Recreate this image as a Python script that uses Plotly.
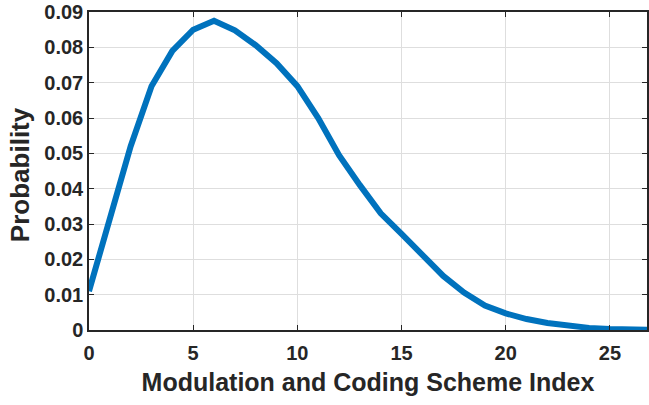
import plotly.graph_objects as go

mcs = list(range(0, 28))
prob = [0.011, 0.032, 0.052, 0.069, 0.079, 0.085, 0.0875, 0.0848, 0.0806, 0.0755,
        0.069, 0.060, 0.0495, 0.041, 0.033, 0.0272, 0.0215, 0.0153, 0.0106, 0.0069,
        0.0047, 0.0031, 0.0020, 0.0012, 0.0006, 0.0003, 0.0001, 0.00005]

x_ticks = [0, 5, 10, 15, 20, 25]
y_ticks = [0, 0.01, 0.02, 0.03, 0.04, 0.05, 0.06, 0.07, 0.08, 0.09]
y_tick_text = ["0", "0.01", "0.02", "0.03", "0.04", "0.05", "0.06", "0.07", "0.08", "0.09"]

FONT = "Liberation Sans, Arial, sans-serif"
tick_font = dict(family=FONT, size=20, color="#262626", weight="bold")
fig = go.Figure()
fig.add_trace(go.Scatter(x=mcs, y=prob, mode="lines",
                         line=dict(color="#0072BD", width=6), showlegend=False))

fig.update_layout(
    width=649, height=405,
    margin=dict(l=89, r=0, t=12, b=75),
    paper_bgcolor="white", plot_bgcolor="white",
    font=dict(family=FONT, color="#262626"),
    xaxis=dict(range=[0, 26.78], tickvals=x_ticks, ticks="inside", ticklen=5,
               tickcolor="#262626", showline=True, linecolor="#262626", linewidth=1.5,
               mirror="ticks", showgrid=True, gridcolor="#dedede", gridwidth=1,
               zeroline=False, tickfont=tick_font, ticklabelstandoff=4,
               title=dict(text="<b>Modulation and Coding Scheme Index</b>",
                          font=dict(family=FONT, size=25, color="#262626"),
                          standoff=11)),
    yaxis=dict(range=[0, 0.09], tickvals=y_ticks, ticktext=y_tick_text, ticks="inside", ticklen=5,
               tickcolor="#262626", showline=True, linecolor="#262626", linewidth=1.5,
               mirror="ticks", showgrid=True, gridcolor="#dedede", gridwidth=1,
               zeroline=False, tickfont=tick_font),
    annotations=[dict(text="<b>Probability</b>", xref="paper", yref="paper",
                      x=0, y=0.487, xanchor="center", yanchor="middle", xshift=-69,
                      textangle=-90, showarrow=False,
                      font=dict(family=FONT, size=26, color="#262626"))],
)
fig.write_html("out.html")
